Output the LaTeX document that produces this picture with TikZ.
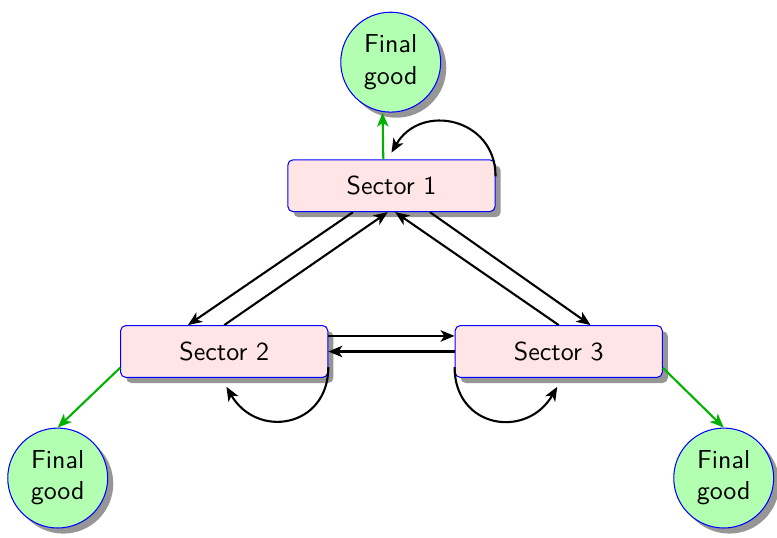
\documentclass[tikz,border=0pt]{standalone}
\usepackage{tikz}
\usetikzlibrary{shadows,arrows.meta}

\begin{document}
\begin{tikzpicture}[>={Stealth[length=5.4pt, width=4.4pt, inset=1.5pt]},
    sector/.style={draw=blue, rectangle, rounded corners=2pt, fill=red!10, minimum width=2.8cm, minimum height=0.7cm, drop shadow={fill=black!41, opacity=1}, font=\sffamily},
    good/.style={draw=blue, circle, fill=green!30, minimum size=1.35cm, inner sep=0pt, align=center, drop shadow={fill=black!41, opacity=1}, font=\sffamily},
    flow/.style={->, thick},
    goodflow/.style={->, thick, green!70!black}]
    \useasboundingbox (0,0) rectangle (10.5,-7.257);
    \node[sector] (S1) at (5.29,-2.51) {Sector 1};
    \node[sector] (S2) at (3.03,-4.75) {Sector 2};
    \node[sector] (S3) at (7.55,-4.75) {Sector 3};
    \node[good] (F1) at (5.28,-0.84) {Final\\good};
    \node[good] (F2) at (0.78,-6.46) {Final\\good};
    \node[good] (F3) at (9.78,-6.46) {Final\\good};
    % final goods
    \draw[goodflow] ([xshift=-0.11cm]S1.north) -- ([xshift=-0.11cm]F1.south);
    \draw[goodflow] ([yshift=-0.22cm]S2.west) -- (F2.north);
    \draw[goodflow] ([yshift=-0.22cm]S3.east) -- (F3.north);
    % flows between sectors
    \draw[flow] ([xshift=-0.52cm]S1.south) -- ([xshift=-0.49cm]S2.north);
    \draw[flow] (S2.north) -- ([xshift=-0.05cm]S1.south);
    \draw[flow] (S3.north) -- ([xshift=0.05cm]S1.south);
    \draw[flow] ([xshift=0.52cm]S1.south) -- ([xshift=0.43cm]S3.north);
    \draw[flow] ([yshift=0.21cm]S2.east) -- ([yshift=0.21cm]S3.west);
    \draw[flow] (S3.west) -- (S2.east);
    % own use
    \draw[flow] ([yshift=-0.23cm]S1.north east) to[out=90, in=60, looseness=1.4] ([yshift=0.09cm]S1.north);
    \draw[flow] ([yshift=-0.21cm]S2.east) to[out=-90, in=-60, looseness=1.5] ([xshift=0.03cm, yshift=-0.12cm]S2.south);
    \draw[flow] ([yshift=-0.21cm]S3.west) to[out=-90, in=-120, looseness=1.5] ([xshift=-0.02cm, yshift=-0.12cm]S3.south);
\end{tikzpicture}
\end{document}
